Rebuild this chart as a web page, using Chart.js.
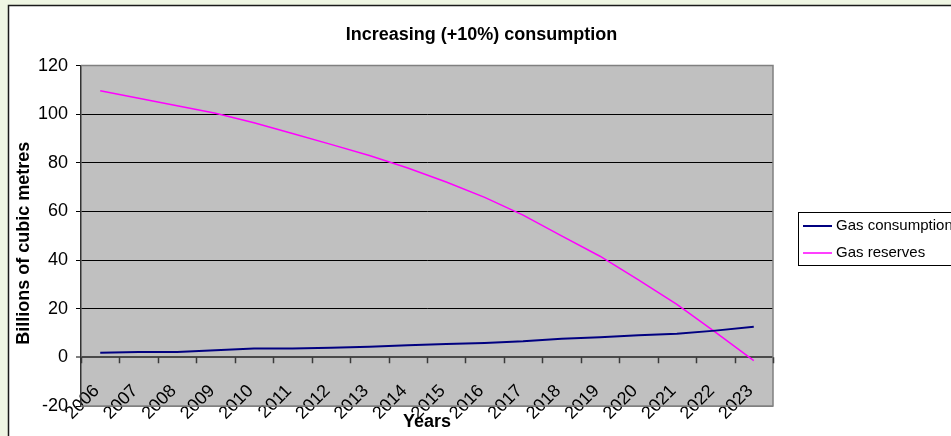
<!DOCTYPE html>
<html>
<head>
<meta charset="utf-8">
<title>Increasing (+10%) consumption</title>
<script src="https://cdn.jsdelivr.net/npm/chart.js@4.4.1/dist/chart.umd.min.js"></script>
<style>
  html, body { margin: 0; padding: 0; overflow: hidden; background: #eff6e3; }
  canvas { display: block; }
</style>
</head>
<body>
<canvas id="chart" width="951" height="436"></canvas>
<script>
// Years on the category axis
const years = ['2006', '2007', '2008', '2009', '2010', '2011', '2012', '2013', '2014',
               '2015', '2016', '2017', '2018', '2019', '2020', '2021', '2022', '2023'];

// Billions of cubic metres per year
const gasConsumption = [1.9, 2.2, 2.2, 2.9, 3.6, 3.6, 4.0, 4.4, 5.0,
                        5.5, 5.9, 6.6, 7.7, 8.3, 9.1, 9.7, 11.0, 12.6];
const gasReserves = [109.7, 106.6, 103.5, 100.4, 96.5, 92.1, 87.6, 83.0, 77.9,
                     72.1, 65.8, 58.5, 50.0, 41.6, 31.9, 21.8, 10.4, -1.3];

// Value axis range
const yMin = -20;
const yMax = 120;
const yStep = 20;

const FONT = 'Liberation Sans, Arial, Helvetica, sans-serif';

// White panel, grey plot background
const panelPlugin = {
  id: 'panel',
  beforeDraw(chart) {
    const { ctx, chartArea: a } = chart;
    ctx.save();
    ctx.fillStyle = '#eff6e3';
    ctx.fillRect(0, 0, chart.width, chart.height);
    ctx.fillStyle = '#ffffff';
    ctx.fillRect(8, 5, 960, 440);
    ctx.strokeStyle = '#1a1a1a';
    ctx.lineWidth = 1.5;
    ctx.strokeRect(8.5, 5.5, 960, 440);
    ctx.fillStyle = '#c0c0c0';
    ctx.fillRect(a.left, a.top, a.right - a.left, a.bottom - a.top);
    ctx.restore();
  }
};

// Plot frame and the category tick marks hanging from the zero line
const framePlugin = {
  id: 'frame',
  beforeDatasetsDraw(chart) {
    const { ctx, chartArea: a } = chart;
    const xs = chart.scales.x;
    const ys = chart.scales.y;
    ctx.save();
    ctx.strokeStyle = '#808080';
    ctx.lineWidth = 1.5;
    ctx.beginPath();
    ctx.moveTo(a.left, a.top);
    ctx.lineTo(a.right, a.top);
    ctx.lineTo(a.right, a.bottom);
    ctx.lineTo(a.left, a.bottom);
    ctx.stroke();

    const y0 = ys.getPixelForValue(0);
    ctx.strokeStyle = '#3a3a3a';
    ctx.lineWidth = 1.5;
    ctx.beginPath();
    for (let i = 0; i <= years.length; i++) {
      const x = Math.round(xs.getPixelForValue(i - 0.5)) + 0.5;
      ctx.moveTo(x, y0);
      ctx.lineTo(x, y0 + 6);
    }
    ctx.stroke();
    ctx.restore();
  }
};

// Boxed legend to the right of the plot
const boxLegendPlugin = {
  id: 'boxLegend',
  afterDraw(chart) {
    const { ctx } = chart;
    const left = 798, top = 212, rowH = 27, first = 226;
    ctx.save();
    ctx.fillStyle = '#ffffff';
    ctx.fillRect(left, top, 170, 53);
    ctx.strokeStyle = '#000000';
    ctx.lineWidth = 1;
    ctx.strokeRect(left + 0.5, top + 0.5, 170, 53);
    ctx.font = '15px ' + FONT;
    ctx.textBaseline = 'middle';
    ctx.textAlign = 'left';
    chart.data.datasets.forEach((ds, i) => {
      const y = first + i * rowH;
      ctx.strokeStyle = ds.borderColor;
      ctx.lineWidth = ds.borderWidth;
      ctx.beginPath();
      ctx.moveTo(left + 5, y);
      ctx.lineTo(left + 34, y);
      ctx.stroke();
      ctx.fillStyle = '#000000';
      ctx.fillText(ds.label, left + 38, y);
    });
    ctx.restore();
  }
};

new Chart(document.getElementById('chart'), {
  type: 'line',
  data: {
    labels: years,
    datasets: [
      {
        label: 'Gas consumption',
        data: gasConsumption,
        borderColor: '#000080',
        borderWidth: 2,
        pointRadius: 0,
        tension: 0,
        fill: false,
        xAxisID: 'x',
        yAxisID: 'y'
      },
      {
        label: 'Gas reserves',
        data: gasReserves,
        borderColor: '#ff00ff',
        borderWidth: 1.5,
        pointRadius: 0,
        tension: 0,
        fill: false,
        xAxisID: 'x',
        yAxisID: 'y'
      }
    ]
  },
  options: {
    responsive: false,
    animation: false,
    devicePixelRatio: 1,
    layout: { padding: { left: 12, right: 0, top: 5, bottom: 0 } },
    plugins: {
      legend: { display: false },
      tooltip: { enabled: false },
      title: {
        display: true,
        text: 'Increasing (+10%) consumption',
        color: '#000000',
        font: { family: FONT, size: 18, weight: 'bold' },
        padding: { top: 19, bottom: 20 }
      }
    },
    scales: {
      x: {
        type: 'category',
        offset: true,
        grid: { display: false, drawTicks: false },
        border: { display: false },
        ticks: {
          color: '#000000',
          font: { family: FONT, size: 18 },
          minRotation: 45,
          maxRotation: 45,
          autoSkip: false,
          padding: -29,
          // trailing space keeps each year's end just short of its category centre
          callback: (value, index) => years[index] + ' '
        },
        title: {
          display: true,
          text: 'Years',
          color: '#000000',
          font: { family: FONT, size: 18, weight: 'bold' },
          padding: { top: 0, bottom: 3 }
        },
        afterFit(scale) {
          scale.height = 30;
          // year labels rise into the plot area, so they are not clipped to the axis box
          scale._computeLabelArea = () => undefined;
        }
      },
      y: {
        position: 'left',
        min: yMin,
        max: yMax,
        ticks: {
          stepSize: yStep,
          color: '#000000',
          font: { family: FONT, size: 18 },
          padding: 8
        },
        grid: {
          color: (c) => (c.tick && (c.tick.value === yMin || c.tick.value === yMax)) ? '#808080'
                      : (c.tick && c.tick.value === 0 ? '#4a4a4a' : '#000000'),
          lineWidth: (c) => (c.tick && c.tick.value === 0) ? 2 : 1,
          tickLength: 5,
          tickColor: '#000000',
          tickWidth: 1
        },
        border: { color: '#333333', width: 1.5 },
        title: {
          display: true,
          // trailing spaces set the axis title a little below the plot's middle
          text: 'Billions of cubic metres   ',
          color: '#000000',
          font: { family: FONT, size: 18, weight: 'bold' },
          padding: { top: 1, bottom: 0 }
        },
        afterFit(scale) { scale.width = 69; }
      },
      side: {
        type: 'linear',
        position: 'right',
        display: true,
        grid: { display: false, drawTicks: false },
        ticks: { display: false },
        border: { display: false },
        afterFit(scale) { scale.width = 178; }
      }
    }
  },
  plugins: [panelPlugin, framePlugin, boxLegendPlugin]
});
</script>
</body>
</html>
